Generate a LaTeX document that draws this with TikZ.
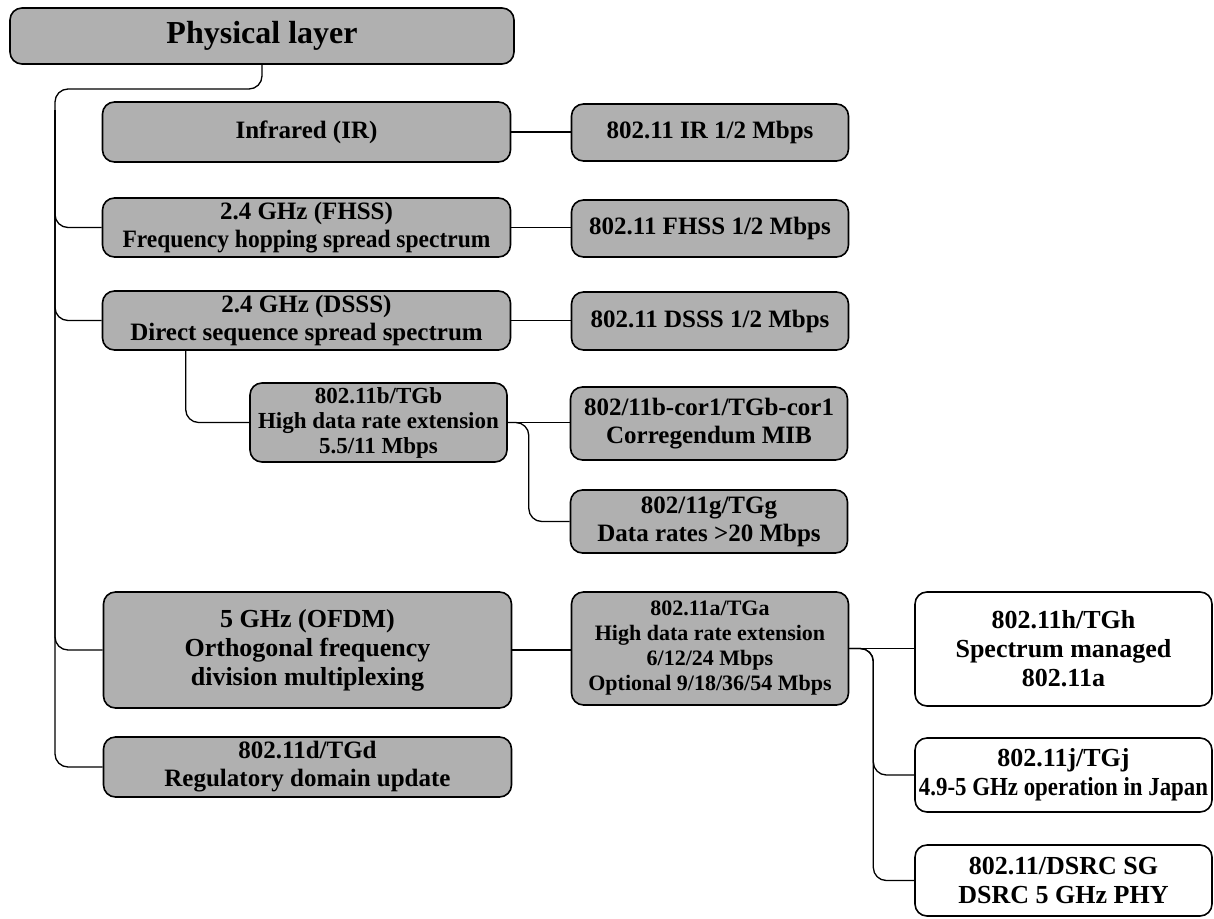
\documentclass[tikz,border=0pt]{standalone}
\usepackage{fontspec}
\setmainfont{Liberation Serif}
\usetikzlibrary{positioning,calc}
\definecolor{scangray}{RGB}{176,176,176}

\begin{document}
\begin{tikzpicture}[x=1pt, y=-1pt,
    box/.style={draw=black, line width=1.6pt, rounded corners=12pt, fill=scangray,
        inner sep=0pt, align=center, font=\bfseries\fontsize{25}{28}\selectfont},
    smallbox/.style={box, font=\bfseries\fontsize{22.5}{25}\selectfont},
    whitebox/.style={box, fill=white, font=\bfseries\fontsize{26}{29}\selectfont},
    leftcol/.style={box, minimum width=408pt},
    rightcol/.style={box, minimum width=277pt},
    link/.style={line width=1.3pt, rounded corners=13pt}]

    \useasboundingbox (0,0) rectangle (1214,918);

    % Root
    \node[box, minimum width=504pt, minimum height=56pt,
          font=\bfseries\fontsize{32}{34}\selectfont] (phys) at (262,36) {Physical layer};

    % Left column
    \node[leftcol, minimum height=60pt] (ir) at (306.5,132) {Infrared (IR)};
    \node[leftcol, minimum height=59pt] (fhss) at (306.5,227.5)
        {2.4 GHz (FHSS)\\\scalebox{0.94}[1]{Frequency hopping spread spectrum}};
    \node[leftcol, minimum height=59pt] (dsss) at (306.5,320.5)
        {2.4 GHz (DSSS)\\Direct sequence spread spectrum};
    \node[smallbox, minimum width=257pt, minimum height=79pt,
          font=\bfseries\fontsize{23}{25}\selectfont] (tgb) at (378.5,422.5)
        {802.11b/TGb\\High data rate extension\\5.5/11 Mbps};
    \node[leftcol, minimum height=116pt, font=\bfseries\fontsize{26}{29}\selectfont] (ofdm) at (307.5,650)
        {5 GHz (OFDM)\\Orthogonal frequency\\division multiplexing};
    \node[leftcol, minimum height=60pt] (tgd) at (307.5,767)
        {802.11d/TGd\\Regulatory domain update};

    % Right column
    \node[rightcol, minimum height=57pt] (irr) at (710,132.5) {802.11 IR 1/2 Mbps};
    \node[rightcol, minimum height=57pt] (fhssr) at (710,228.5) {802.11 FHSS 1/2 Mbps};
    \node[rightcol, minimum height=58pt] (dsssr) at (710,321) {802.11 DSSS 1/2 Mbps};
    \node[rightcol, minimum height=73pt] (cor) at (709,423.5)
        {802/11b-cor1/TGb-cor1\\Corregendum MIB};
    \node[rightcol, minimum height=63pt] (tgg) at (709,521.5)
        {802/11g/TGg\\Data rates >20 Mbps};
    \node[smallbox, minimum width=277pt, minimum height=113pt,
          font=\bfseries\fontsize{22}{25}\selectfont] (tga) at (710,648.5)
        {802.11a/TGa\\High data rate extension\\6/12/24 Mbps\\Optional 9/18/36/54 Mbps};

    % White boxes
    \node[whitebox, minimum width=297pt, minimum height=114pt] (tgh) at (1063.5,649)
        {802.11h/TGh\\Spectrum managed\\802.11a};
    \node[whitebox, minimum width=297pt, minimum height=74pt] (tgj) at (1063.5,775)
        {802.11j/TGj\\\scalebox{0.88}[1]{4.9-5 GHz operation in Japan}};
    \node[whitebox, minimum width=297pt, minimum height=71pt] (dsrc) at (1063.5,880.5)
        {802.11/DSRC SG\\DSRC 5 GHz PHY};

    % Trunk
    \coordinate (top) at (55,89);
    \coordinate (trunk) at (55,110);
    \draw[link] (phys.south) |- (top) |- (tgd.west);
    \foreach \n in {fhss,dsss,ofdm}
        \draw[link] (trunk) |- (\n.west);

    % Straight links
    \foreach \a/\b in {ir/irr, fhss/fhssr, dsss/dsssr, ofdm/tga, tgb/cor, tga/tgh}
        \draw[link] (\a.east) -- (\a.east -| \b.west);

    % Sub branches
    \draw[link] ($(dsss.south west)+(84,0)$) |- (tgb.west);
    \draw[link] (tgb.east) -- ++(21,0) |- (tgg.west);
    \draw[link] (tga.east) -- ++(24,0) |- (tgj.west);
    \draw[link] (tga.east) -- ++(24,0) |- (dsrc.west);

\end{tikzpicture}
\end{document}
